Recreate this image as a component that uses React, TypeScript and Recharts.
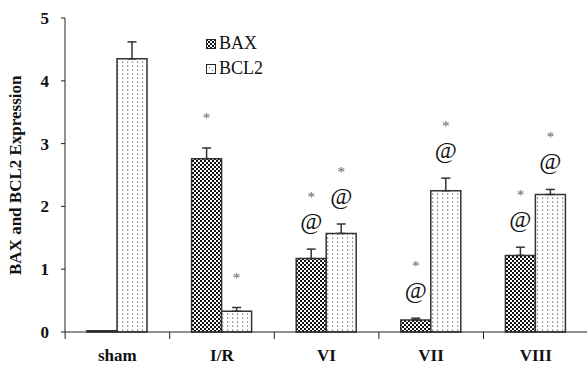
import { Bar, BarChart, ErrorBar, LabelList, XAxis, YAxis } from 'recharts';

const groups = ['sham', 'I/R', 'VI', 'VII', 'VIII'];
const baxValues = [0.02, 2.76, 1.17, 0.19, 1.22];
const baxErrors = [0, 0.17, 0.15, 0.03, 0.13];
const bcl2Values = [4.35, 0.33, 1.57, 2.25, 2.19];
const bcl2Errors = [0.27, 0.06, 0.15, 0.2, 0.08];
const baxMarks = [[], ['*'], ['*', '@'], ['*', '@'], ['*', '@']];
const bcl2Marks = [[], ['*'], ['*', '@'], ['*', '@'], ['*', '@']];
const yTicks = [0, 1, 2, 3, 4, 5];

const data = groups.map((g, i) => ({
  group: g,
  bax: baxValues[i],
  baxErr: [0, baxErrors[i]],
  bcl2: bcl2Values[i],
  bcl2Err: [0, bcl2Errors[i]],
}));

const serif = '"Liberation Serif", "Times New Roman", serif';

// "*" and "@" marks stacked above the error bar top
const makeMarkLabel = (marks: string[][], errors: number[], values: number[]) => (props: any) => {
  const { x, y, width, height, index } = props;
  const list = marks[index];
  if (!list || list.length === 0) return null;
  const pxPerUnit = height / values[index];
  const errTop = y - errors[index] * pxPerUnit;
  const cx = x + width / 2;
  const hasAt = list.includes('@');
  return (
    <g>
      {hasAt && (
        <text x={cx} y={errTop - 20} textAnchor="middle" fontFamily={serif} fontSize={24} fill="#111">
          @
        </text>
      )}
      <text x={cx} y={errTop - (hasAt ? 47 : 25)} textAnchor="middle" fontFamily={serif} fontSize={15} fill="#666">
        *
      </text>
    </g>
  );
};

const XTick = (props: any) => {
  const { x, y, payload } = props;
  const half = 52.2;
  return (
    <g>
      <line x1={x - half} y1={y - 8} x2={x - half} y2={y - 1} stroke="#222" />
      <text x={x} y={y + 21} textAnchor="middle" fontFamily={serif} fontWeight="bold" fontSize={17} fill="#111">
        {payload.value}
      </text>
    </g>
  );
};

export default function App() {
  return (
    <div style={{ position: 'absolute', left: 0, top: 0, width: 587, height: 372, background: '#fff' }}>
      <BarChart
        width={587}
        height={372}
        data={data}
        margin={{ top: 18, right: -1, bottom: 0, left: 0 }}
        barGap={0}
        barSize={30}
      >
        <defs>
          <pattern id="checker" width="4" height="4" patternUnits="userSpaceOnUse">
            <rect width="4" height="4" fill="#fff" />
            <rect x="0" y="0" width="2" height="2" fill="#111" />
            <rect x="2" y="2" width="2" height="2" fill="#111" />
          </pattern>
          <pattern id="dots" width="5" height="4" patternUnits="userSpaceOnUse">
            <rect width="5" height="4" fill="#fff" />
            <rect x="2" y="1.5" width="1.2" height="1.2" fill="#666" />
          </pattern>
        </defs>
        <XAxis
          dataKey="group"
          height={40}
          axisLine={{ stroke: '#222' }}
          tickLine={false}
          tick={<XTick />}
          interval={0}
        />
        <YAxis
          width={65}
          domain={[0, 5]}
          ticks={yTicks}
          axisLine={{ stroke: '#222' }}
          tickLine={{ stroke: '#222' }}
          tickSize={4}
          tick={{ fontFamily: serif, fontWeight: 'bold', fontSize: 17, fill: '#111', dx: -10 }}
          label={{
            value: 'BAX and BCL2 Expression',
            angle: -90,
            position: 'insideLeft',
            dx: 10,
            dy: 100,
            style: { fontFamily: serif, fontWeight: 'bold', fontSize: 17, fill: '#111' },
          }}
        />
        <Bar dataKey="bax" fill="url(#checker)" stroke="#333" strokeWidth={1.5} isAnimationActive={false}>
          <ErrorBar dataKey="baxErr" width={4.5} stroke="#333" strokeWidth={1.5} direction="y" />
          <LabelList dataKey="bax" content={makeMarkLabel(baxMarks, baxErrors, baxValues)} />
        </Bar>
        <Bar dataKey="bcl2" fill="url(#dots)" stroke="#333" strokeWidth={1.5} isAnimationActive={false}>
          <ErrorBar dataKey="bcl2Err" width={4.5} stroke="#333" strokeWidth={1.5} direction="y" />
          <LabelList dataKey="bcl2" content={makeMarkLabel(bcl2Marks, bcl2Errors, bcl2Values)} />
        </Bar>
      </BarChart>
      <div style={{ position: 'absolute', left: 206, top: 31, fontFamily: serif, fontSize: 18, color: '#111', lineHeight: '25px' }}>
        <div style={{ display: 'flex', alignItems: 'center' }}>
          <svg width={10} height={10} style={{ marginRight: 3 }}>
            <rect x={0.5} y={0.5} width={9} height={9} fill="url(#checker)" stroke="#222" />
          </svg>
          BAX
        </div>
        <div style={{ display: 'flex', alignItems: 'center' }}>
          <svg width={10} height={10} style={{ marginRight: 3 }}>
            <rect x={0.5} y={0.5} width={9} height={9} fill="#fff" stroke="#222" />
            <rect x={3} y={3} width={1} height={1} fill="#555" />
            <rect x={6} y={6} width={1} height={1} fill="#555" />
          </svg>
          BCL2
        </div>
      </div>
    </div>
  );
}
